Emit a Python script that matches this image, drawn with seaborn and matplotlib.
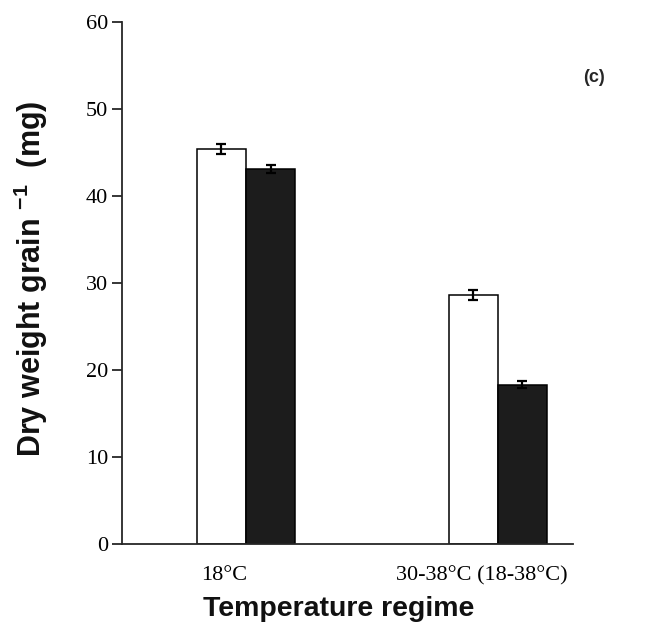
import matplotlib
matplotlib.use("Agg")
import matplotlib.pyplot as plt
import matplotlib.transforms as mtransforms
import seaborn as sns
import pandas as pd

# Grain dry weight by temperature regime (two treatments: open and filled bars)
regimes = ["18°C", "30-38°C (18-38°C)"]
groups = ["open", "filled"]
open_means = [45.4, 28.6]
filled_means = [43.1, 18.3]
open_err = [0.6, 0.6]
filled_err = [0.45, 0.4]
y_ticks = [0, 10, 20, 30, 40, 50, 60]
label_shift_pt = [-15.5, -11.5]  # nudge of each category label to the left

df = pd.DataFrame({
    "regime": regimes * 2,
    "group": [groups[0]] * len(regimes) + [groups[1]] * len(regimes),
    "weight": open_means + filled_means,
})

sns.set_theme(style="ticks")
plt.rcParams.update({
    "font.family": ["Liberation Serif", "DejaVu Serif"],
    "mathtext.fontset": "custom",
    "mathtext.rm": "Liberation Sans:bold",
    "mathtext.bf": "Liberation Sans:bold",
    "axes.linewidth": 1.3,
})

fig = plt.figure(figsize=(6.55, 6.35), dpi=100)
ax = fig.add_axes([0.1863, 0.1433, 0.6885, 0.8221])

sns.barplot(
    data=df, x="regime", y="weight", hue="group",
    order=regimes, hue_order=groups,
    palette={"open": "white", "filled": "#1c1c1c"},
    saturation=1, width=0.39, edgecolor="black", linewidth=1.1,
    errorbar=None, legend=False, ax=ax,
)

for cont, errs in zip(ax.containers, [open_err, filled_err]):
    xs = [p.get_x() + p.get_width() / 2 for p in cont]
    ys = [p.get_height() for p in cont]
    ax.errorbar(xs, ys, yerr=errs, fmt="none", ecolor="black",
                elinewidth=1.6, capsize=3.5, capthick=1.6, zorder=5)

ax.set_xlim(-0.492, 1.298)
ax.set_ylim(0, 60)
ax.set_yticks(y_ticks)
ax.set_yticklabels([str(v) for v in y_ticks])
sns.despine(ax=ax)

ax.tick_params(axis="y", direction="out", length=7, width=1.1, pad=3,
               labelsize=16, colors="black")
ax.tick_params(axis="x", length=0, pad=16, labelsize=16, colors="black")
for lab, dx in zip(ax.get_xticklabels(), label_shift_pt):
    lab.set_transform(lab.get_transform() +
                      mtransforms.ScaledTranslation(dx / 72, 0, fig.dpi_scale_trans))

ax.set_xlabel("Temperature regime", family="Liberation Sans",
              fontweight="bold", fontsize=20.5, color="#111111")
ax.xaxis.set_label_coords(0.481, -0.1)
ax.set_ylabel(r"Dry weight grain $^{-1}$  (mg)", family="Liberation Sans",
              fontweight="bold", fontsize=22, color="#111111")
ax.yaxis.set_label_coords(-0.16, 0.508)

fig.text(594 / 655, 1 - 78 / 635, "(c)", family="Liberation Sans",
         fontweight="bold", fontsize=13, ha="center", va="center")

fig.savefig("out.png", dpi=100, facecolor="white")
